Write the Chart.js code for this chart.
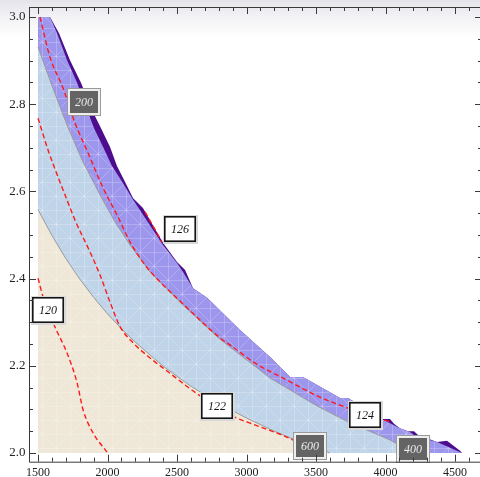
<!DOCTYPE html>
<html><head><meta charset="utf-8">
<script src="https://cdn.jsdelivr.net/npm/chart.js@4/dist/chart.umd.min.js"></script>
<style>
html,body{margin:0;padding:0;overflow:hidden;width:480px;height:477px;background:linear-gradient(#e4e4ea 0px,#f2f2f5 16px,#ffffff 38px);}
#wrap{position:absolute;left:0;top:0;width:484px;height:477px;}
</style></head><body>
<div id="wrap"><canvas id="c"></canvas></div>
<script>
// ---- tick labels ----
const xTicks=[1500,2000,2500,3000,3500,4000,4500];
const yTicks=[2.0,2.2,2.4,2.6,2.8,3.0];

// ---- region boundaries (x, y) ----
const beigeX=[1500,1600,1700,1800,1900,2000,2100,2200,2400,2600,2800,3000,3200,3400,3600];
const beigeY=[2.558,2.499,2.446,2.399,2.357,2.319,2.285,2.254,2.199,2.153,2.114,2.080,2.050,2.023,2.000];

const blueX=[1500,1601,1709,1817,1946,2054,2162,2306,2543,2809,3169,3507,3745,4032,4200];
const blueY=[2.931,2.842,2.752,2.672,2.592,2.530,2.477,2.415,2.339,2.261,2.172,2.108,2.069,2.030,2.000];

const purpleX=[1500,1586,1637,1709,1781,1853,1903,1968,2032,2097,2176,2399,2500,2543,2615,2716,2953,3169,3313,3406,3673,3730,3982,4104,4176,4212,4371,4550];
const purpleY=[3.000,3.000,2.963,2.901,2.849,2.787,2.745,2.702,2.658,2.626,2.585,2.477,2.436,2.415,2.378,2.356,2.282,2.220,2.174,2.174,2.126,2.126,2.076,2.057,2.048,2.039,2.025,2.000];

const darkX=[1500,1586,1651,1730,1809,1888,1953,2018,2068,2119,2183,2255,2399,2500,2558,2615,2716,2953,3169,3313,3406,3673,3730,3982,4032,4061,4104,4162,4205,4234,4371,4442,4536,4550];
const darkY=[3.000,3.000,2.963,2.901,2.849,2.787,2.745,2.702,2.658,2.626,2.585,2.562,2.482,2.438,2.420,2.378,2.356,2.282,2.220,2.174,2.174,2.126,2.126,2.078,2.078,2.067,2.057,2.050,2.050,2.041,2.025,2.028,2.005,2.000];

// ---- contour lines ----
const c120X=[1500,1536,1622,1709,1781,1824,1896,1996];
const c120Y=[2.401,2.358,2.289,2.229,2.161,2.099,2.046,2.002];

const c122X=[1500,1572,1644,1709,1766,1874,1946,2018,2090,2183,2306,2428,2644,2903,3047,3241,3385,3579];
const c122Y=[2.768,2.695,2.633,2.580,2.534,2.461,2.408,2.346,2.290,2.253,2.218,2.188,2.136,2.084,2.066,2.043,2.023,2.001];

const c124X=[1514,1586,1680,1766,1860,1968,2068,2162,2234,2306,2543,2809,2903,3047,3291,3529,3730,3982,4047];
const c124Y=[3.000,2.908,2.837,2.757,2.688,2.608,2.546,2.484,2.447,2.417,2.342,2.264,2.243,2.209,2.167,2.128,2.103,2.076,2.071];

const c126X=[2270,2392];
const c126Y=[2.553,2.484];

// ---- contour labels ----
const labelText=['120','122','124','126','200','400','600'];
const labelX=[1572,2784,3852,2522,1831,4201,3460];
const labelY=[2.328,2.107,2.088,2.513,2.804,2.009,2.015];

function pts(xs,ys){return xs.map((v,i)=>({x:v,y:ys[i]}));}
function pat(base){
  const c=document.createElement('canvas');c.width=28;c.height=28;
  const g=c.getContext('2d');g.fillStyle=base;g.fillRect(0,0,28,28);
  g.strokeStyle='rgba(255,255,255,0.22)';g.lineWidth=1;g.beginPath();
  g.moveTo(0.5,0);g.lineTo(0.5,28);g.moveTo(14.5,0);g.lineTo(14.5,28);
  g.moveTo(0,0.5);g.lineTo(28,0.5);g.moveTo(0,14.5);g.lineTo(28,14.5);
  g.moveTo(0,0);g.lineTo(14,14);g.lineTo(28,0);
  g.moveTo(0,28);g.lineTo(14,14);g.lineTo(28,28);
  g.stroke();
  return g.createPattern(c,'repeat');
}

const region=(data,bg,order,border)=>({data,backgroundColor:bg,fill:{value:2.0},order,
  borderColor:border||'rgba(0,0,0,0)',borderWidth:border?1:0,pointRadius:0,tension:0});
const contour=(data)=>({data,fill:false,order:0,borderColor:'#ff1a1a',borderWidth:1.4,
  borderDash:[5,3],pointRadius:0,cubicInterpolationMode:'monotone'});

const zeroPad=s=>{s.paddingTop=0;s.paddingBottom=0;s.paddingLeft=0;s.paddingRight=0;};

const frame={
  id:'frame',
  afterDraw(chart){
    const {ctx,chartArea:a,scales:{x,y}}=chart;
    ctx.save();ctx.strokeStyle='#3a3a3a';ctx.lineWidth=1;
    ctx.beginPath();
    ctx.moveTo(a.left+0.5,a.top+0.5);ctx.lineTo(a.left+0.5,a.bottom+0.5);ctx.lineTo(a.right,a.bottom+0.5);
    ctx.moveTo(a.left,a.top+0.5);ctx.lineTo(a.right,a.top+0.5);
    ctx.moveTo(a.right-0.5,a.top);ctx.lineTo(a.right-0.5,a.bottom);
    for(let v=1500;v<=4600;v+=100){
      const px=Math.round(x.getPixelForValue(v))+0.5;const L=(v%500===0)?7:4;
      ctx.moveTo(px,a.bottom);ctx.lineTo(px,a.bottom-L);
      ctx.moveTo(px,a.top);ctx.lineTo(px,a.top+L);
    }
    for(let k=0;k<=20;k++){
      const v=2+k*0.05;const py=Math.round(y.getPixelForValue(v))+0.5;const L=(k%4===0)?7:4;
      ctx.moveTo(a.left,py);ctx.lineTo(a.left+L,py);
      ctx.moveTo(a.right,py);ctx.lineTo(a.right-L,py);
    }
    ctx.stroke();ctx.restore();
  },
  afterDatasetsDraw(chart){
    const {ctx,scales:{x,y}}=chart;
    labelText.forEach((t,i)=>{
      const cx=Math.round(x.getPixelForValue(labelX[i])),cy=Math.round(y.getPixelForValue(labelY[i]));
      const w=32,h=26,l=cx-w/2,tp=cy-h/2;const dark=Number(t)>=200;
      ctx.save();
      if(dark){
        ctx.fillStyle='#9a9a9a';ctx.fillRect(l-1,tp-1,w+2,h+2);
        ctx.fillStyle='#eeeeee';ctx.fillRect(l,tp,w,h);
        ctx.fillStyle='#646464';ctx.fillRect(l+2,tp+2,w-4,h-4);
        ctx.fillStyle='#ececec';
      }else{
        ctx.fillStyle='#d8d8d8';ctx.fillRect(l-1,tp-1,w+3,h+3);
        ctx.fillStyle='#ffffff';ctx.fillRect(l,tp,w,h);
        ctx.strokeStyle='#151515';ctx.lineWidth=1.6;ctx.strokeRect(l+0.8,tp+0.8,w-1.6,h-1.6);
        ctx.fillStyle='#151515';
      }
      ctx.font='italic 12px "Liberation Serif", "Times New Roman", serif';
      ctx.textAlign='center';ctx.textBaseline='middle';
      ctx.fillText(t,cx,cy+1);
      ctx.restore();
    });
  }
};

new Chart(document.getElementById('c'),{
  type:'line',
  data:{datasets:[
    contour(pts(c120X,c120Y)),
    contour(pts(c122X,c122Y)),
    contour(pts(c124X,c124Y)),
    contour(pts(c126X,c126Y)),
    region(pts(beigeX,beigeY),pat('#efe7d7'),1,'#9a9a9a'),
    region(pts(blueX,blueY),pat('#c0d4e9'),2,'#9a9a9a'),
    region(pts(purpleX,purpleY),pat('#9c97ec'),3),
    region(pts(darkX,darkY),'#4d0d8e',4)
  ]},
  options:{
    responsive:true,maintainAspectRatio:false,animation:false,devicePixelRatio:1,
    layout:{padding:{top:7,right:2,left:0,bottom:0}},
    plugins:{legend:{display:false},tooltip:{enabled:false}},
    scales:{
      x:{type:'linear',min:1435,max:4694,
        grid:{display:false,drawTicks:false},border:{display:false},
        afterBuildTicks:s=>{s.ticks=xTicks.map(v=>({value:v}));},
        afterFit:s=>{s.height=15.3;zeroPad(s);},
        ticks:{padding:4,maxRotation:0,autoSkip:false,color:'#222',
          font:{family:'"Liberation Serif", "Times New Roman", serif',size:12},
          callback:v=>String(v)}},
      y:{type:'linear',min:1.98,max:3.023,
        grid:{display:false,drawTicks:false},border:{display:false},
        afterBuildTicks:s=>{s.ticks=yTicks.map(v=>({value:v}));},
        afterFit:s=>{s.width=29;zeroPad(s);},
        ticks:{padding:3.5,autoSkip:false,color:'#222',
          font:{family:'"Liberation Serif", "Times New Roman", serif',size:13},
          callback:v=>Number(v).toFixed(1)}}
    }
  },
  plugins:[frame]
});
</script>
</body></html>
